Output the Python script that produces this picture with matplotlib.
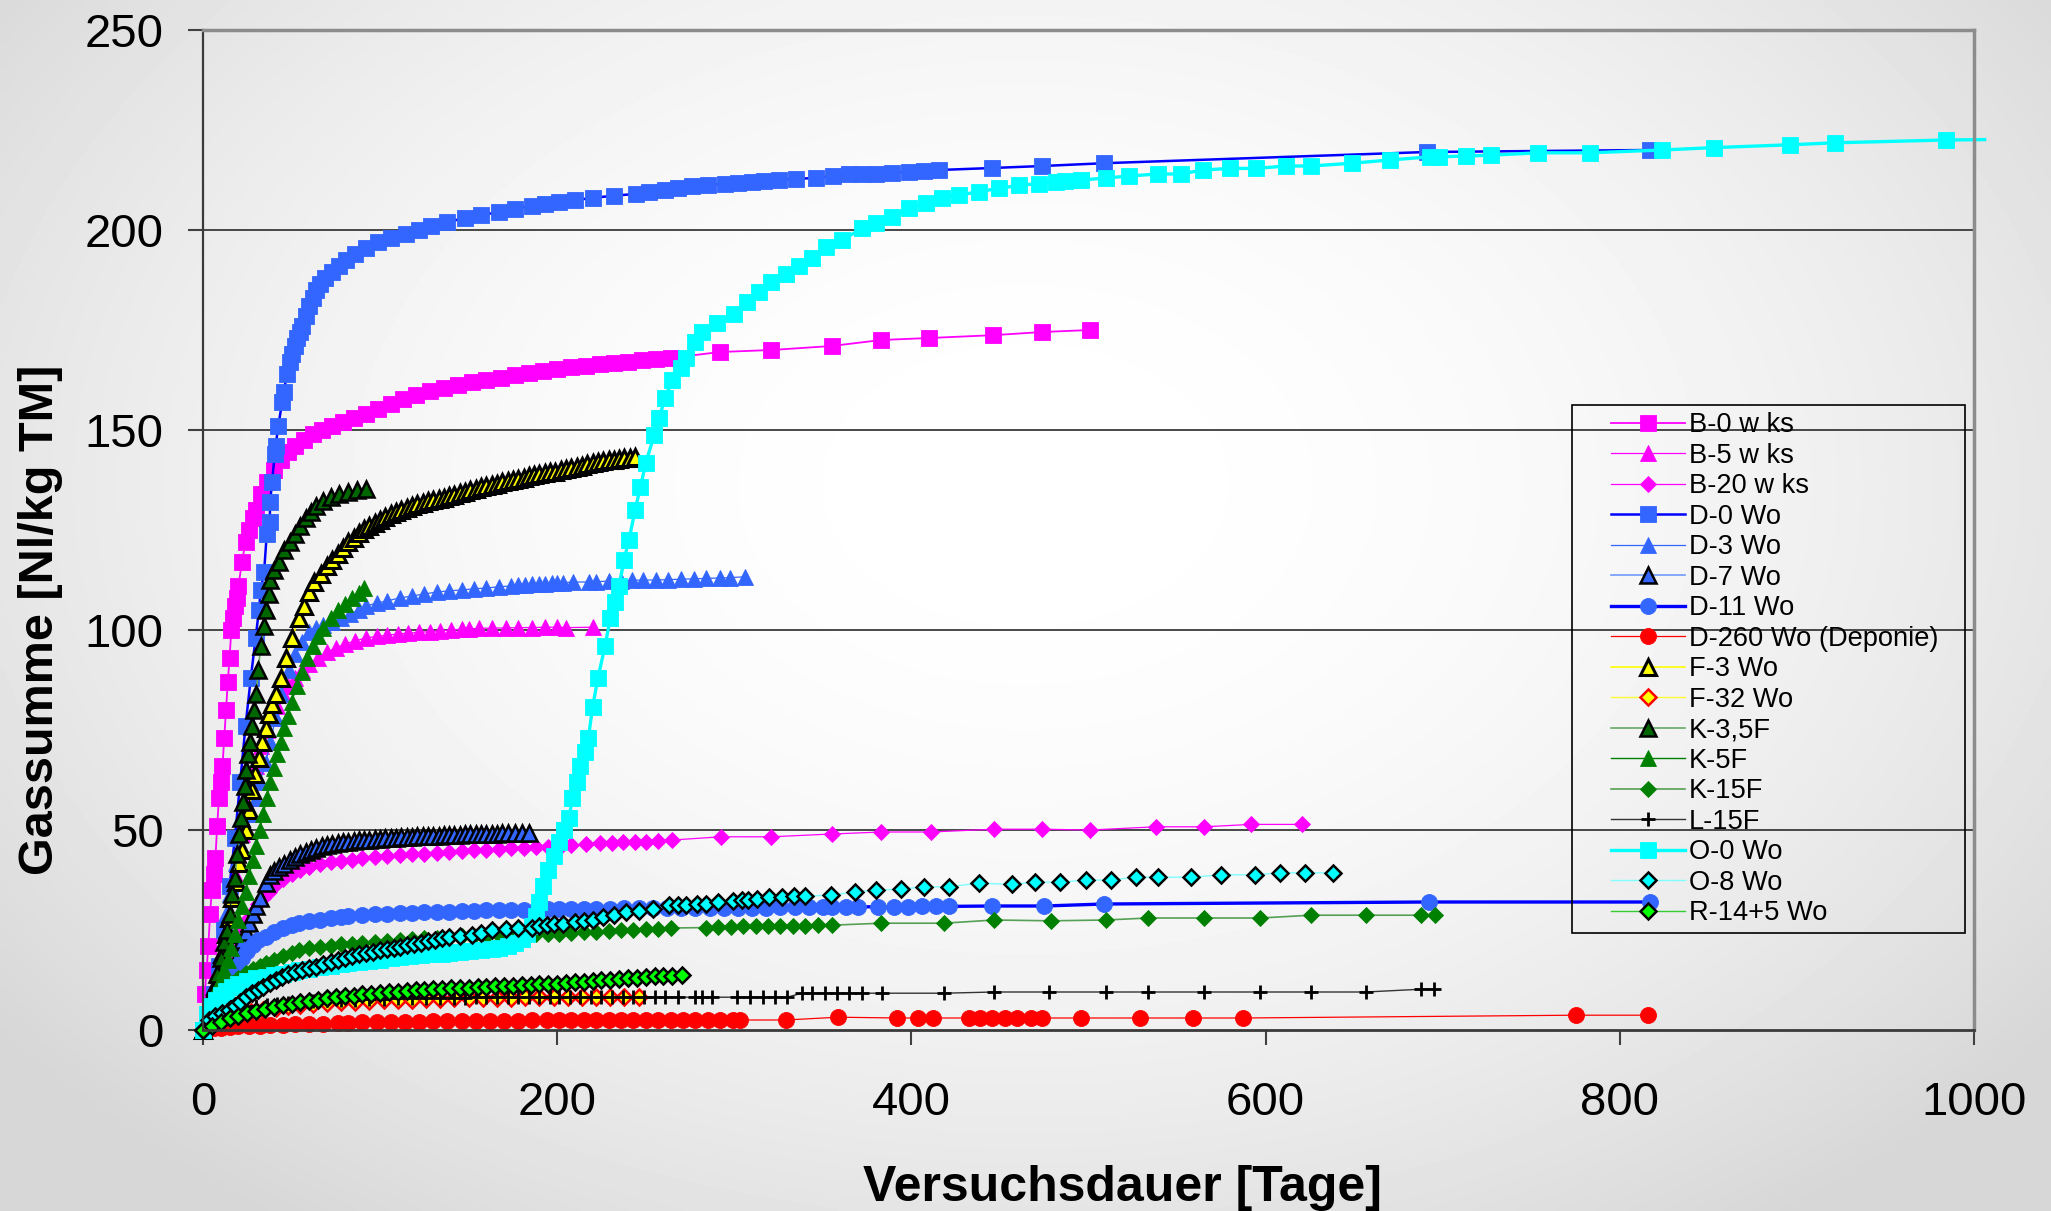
"""Gassumme over Versuchsdauer for several waste samples (Excel-style chart)."""

import matplotlib

matplotlib.use("Agg")
import matplotlib.pyplot as plt
import numpy as np
from matplotlib.patches import Rectangle

plt.rcParams["font.family"] = ["Liberation Sans", "DejaVu Sans"]

# (day, Nl/kg TM) pairs
B0_WKS = [(0, 0), (1, 9), (2, 15), (3, 21), (4, 29), (5, 35), (6, 39), (7, 43), (8, 51), (9, 58),
          (10, 62), (11, 66), (12, 73), (13, 80), (14, 87), (15, 93), (16, 100), (17, 103), (18, 106),
          (19, 108), (20, 111), (22, 117), (24, 122), (26, 125), (28, 128), (30, 130), (33, 134),
          (36, 137), (40, 140), (44, 142.5), (48, 144.5), (52, 146), (57, 147.5), (62, 149), (67, 150),
          (73, 151), (79, 152), (85, 153), (92, 154), (99, 155.2), (106, 156.5), (113, 157.8),
          (120, 158.8), (128, 159.8), (136, 160.5), (144, 161.3), (152, 162), (160, 162.6), (168, 163.1),
          (176, 163.7), (184, 164.3), (192, 164.8), (200, 165.3), (208, 165.7), (216, 166), (224, 166.4),
          (232, 166.7), (240, 167), (248, 167.4), (256, 167.7), (264, 168), (292, 169.5), (321, 170),
          (355, 171), (383, 172.5), (410, 173), (446, 173.7), (474, 174.5), (501, 175)]
B5_WKS = [(0, 0), (2, 3), (4, 6), (6, 10), (8, 14), (10, 19), (12, 24), (14, 29), (16, 34), (18, 39),
          (20, 44), (22, 49), (24, 54), (26, 58), (28, 62), (30, 66), (33, 71), (36, 75), (39, 78),
          (42, 81), (45, 84), (48, 86), (52, 88), (56, 90), (60, 91.5), (65, 93), (70, 94.5), (75, 95.5),
          (80, 96.5), (86, 97.3), (92, 98), (98, 98.4), (104, 98.7), (110, 99), (116, 99.2), (122, 99.4),
          (128, 99.6), (134, 99.8), (140, 100), (146, 100.2), (150, 100.3), (156, 100.4), (163, 100.5),
          (171, 100.5), (178, 100.6), (186, 100.6), (193, 100.7), (200, 100.7), (205, 100.6), (220, 100.7)]
B20_WKS = [(0, 0), (2, 2), (4, 4), (6, 6), (8, 9), (10, 12), (13, 15), (16, 18.5), (19, 22), (22, 25),
           (25, 27.5), (28, 29.5), (31, 31.5), (34, 33), (37, 34.5), (40, 36), (45, 37.7), (50, 39),
           (55, 40), (60, 40.8), (66, 41.4), (72, 41.9), (78, 42.3), (84, 42.6), (90, 42.9), (97, 43.2),
           (104, 43.5), (111, 43.7), (118, 43.9), (125, 44.1), (132, 44.3), (139, 44.5), (146, 44.7),
           (153, 44.9), (160, 45.1), (167, 45.3), (174, 45.4), (181, 45.5), (188, 45.7), (195, 45.8),
           (202, 46), (208, 46.2), (216, 46.4), (224, 46.7), (231, 46.8), (237, 46.9), (244, 47),
           (250, 47.1), (257, 47.3), (265, 47.5), (292.5, 48.3), (320.7, 48.3), (355, 49), (383, 49.5),
           (411, 49.5), (446.6, 50.2), (474, 50.2), (501, 50), (538, 50.8), (565, 50.8), (592, 51.4),
           (620.6, 51.4)]
D0_WO = [(0, 0), (3, 4), (6, 9), (9, 16), (12, 25), (15, 36), (18, 48), (21, 62), (24, 76), (27, 88),
         (29.7, 98), (31.6, 105), (32.6, 110), (34.5, 114.5), (36, 124), (37.7, 127), (37.9, 132),
         (39, 137), (40.5, 144), (41, 146), (42.5, 151), (44.7, 157), (45.5, 159.5), (47.5, 164),
         (49, 167), (50.4, 169), (52, 171), (53, 173), (54.5, 174.5), (56, 176), (58, 178.5), (60, 181),
         (62, 183), (63.6, 185), (66, 186.5), (69, 188), (73, 189.5), (77, 191), (81, 192.5), (86, 194),
         (92, 195.5), (99, 197), (106, 198), (114.5, 199), (122, 200), (129, 201), (138, 202), (148, 203),
         (157, 203.7), (167, 204.5), (176, 205.3), (186, 206), (193, 206.5), (201, 207), (210, 207.5),
         (220, 208), (232, 208.6), (244.5, 209), (252, 209.5), (261, 210), (268, 210.5), (276, 211),
         (285, 211.3), (295, 211.5), (302, 211.8), (310, 212), (317, 212.3), (325, 212.5), (335, 212.8),
         (346, 213), (356, 213.5), (365, 214), (372, 214), (380, 214), (389, 214.3), (398.6, 214.5),
         (407, 214.8), (415.6, 215), (445.5, 215.5), (474, 216), (509, 216.7), (691, 219.5), (817, 220)]
D3_WO = [(0, 0), (3, 5), (6, 11), (9, 17), (12.8, 29), (15, 34), (18.5, 41.7), (21, 46), (24, 50),
         (27, 54), (29.7, 58), (32, 62), (35.4, 66.7), (38, 72), (41, 78), (44, 84), (48.6, 90), (52, 94),
         (56, 97), (60, 99.5), (64, 100.5), (68, 101.2), (73, 102), (78, 103), (83, 104), (88, 105),
         (92, 106), (98, 106.7), (104, 107.3), (111, 108), (118, 108.5), (125, 109), (132, 109.5),
         (139, 109.8), (146, 110), (153, 110.3), (160, 110.5), (167, 110.8), (174, 111), (178, 111.2),
         (182, 111.3), (186, 111.4), (190, 111.5), (193, 111.6), (197, 111.7), (200, 111.8), (203, 111.8),
         (209, 112), (218, 112), (222, 112.1), (229, 112.2), (236, 112.3), (242, 112.4), (248.5, 112.5),
         (256, 112.5), (262.6, 112.6), (270, 112.7), (277.5, 112.8), (284, 112.9), (291.7, 113),
         (297.4, 113.1), (306, 113.3)]
D7_WO = [(0, 0), (2, 1.5), (4, 3), (6, 4.5), (9, 6), (12, 9), (14, 11), (16.5, 14), (19, 18), (22, 22.5),
         (24, 24.5), (26, 26.7), (28, 29), (30, 31), (32, 33), (35.4, 36.7), (38, 38.7), (40, 39.7),
         (43, 40.8), (46, 41.6), (49, 42.5), (52, 43.3), (55, 44), (58, 44.6), (61, 45.1), (64, 45.5),
         (67, 45.9), (70, 46.2), (73, 46.5), (76, 46.7), (79, 46.9), (82, 47.1), (85, 47.3), (88, 47.4),
         (91, 47.5), (94, 47.6), (97, 47.7), (100, 47.8), (103, 47.9), (106, 48), (109, 48.1),
         (112, 48.2), (115, 48.3), (118, 48.3), (121, 48.4), (124, 48.5), (127, 48.5), (130, 48.6),
         (133, 48.6), (136, 48.7), (139, 48.7), (142, 48.8), (145, 48.8), (148, 48.9), (151, 48.9),
         (154, 49), (157, 49), (160, 49), (163, 49.1), (166, 49.1), (169, 49.2), (172, 49.2),
         (176, 49.2), (180, 49.3), (184, 49.3)]
D11_WO = [(0, 0), (3, 3), (6, 6), (9, 9), (12, 11.5), (14, 13), (16.5, 14.5), (19, 16), (22, 18),
          (25, 19.8), (28, 21.3), (31, 22.5), (35.4, 23.3), (40, 24.5), (45, 25.5), (50, 26.2), (54, 26.7),
          (60, 27.2), (66, 27.6), (72, 28), (78, 28.3), (82, 28.5), (90, 28.7), (97, 28.9), (104, 29),
          (111, 29.2), (118, 29.3), (125, 29.4), (132, 29.5), (139, 29.6), (146, 29.7), (153, 29.8),
          (160, 29.9), (167, 30), (174, 30), (181, 30.1), (188, 30.1), (195, 30.2), (201, 30.2),
          (208, 30.2), (215, 30.3), (222, 30.3), (230, 30.3), (238, 30.4), (246, 30.4), (254, 30.4),
          (262, 30.5), (270, 30.5), (278, 30.5), (286, 30.5), (294, 30.6), (302, 30.6), (310, 30.6),
          (318, 30.6), (326, 30.7), (334, 30.7), (342, 30.7), (350, 30.8), (355, 30.8), (363, 30.8),
          (370, 30.8), (381, 30.8), (390, 30.8), (398, 30.8), (406, 30.9), (414, 30.9), (421, 30.9),
          (445.6, 31), (475, 31), (509, 31.5), (692, 32), (817, 32)]
D260_WO = [(0, 0), (3, 0.2), (6, 0.4), (10, 0.6), (15, 0.8), (20, 0.9), (26, 1), (32, 1.1), (38, 1.2),
           (45, 1.3), (52, 1.4), (60, 1.5), (68, 1.6), (76, 1.7), (82, 1.8), (90, 1.9), (98, 2), (106, 2),
           (114, 2.1), (122, 2.1), (130, 2.2), (138, 2.2), (146, 2.2), (154, 2.3), (162, 2.3), (170, 2.3),
           (178, 2.3), (186, 2.4), (194, 2.4), (201, 2.4), (208, 2.4), (215, 2.4), (222, 2.5), (229, 2.5),
           (236, 2.5), (243, 2.5), (250, 2.5), (257, 2.5), (264, 2.5), (271, 2.5), (278, 2.5), (285, 2.5),
           (292, 2.5), (299, 2.5), (303, 2.5), (329, 2.5), (358.6, 3.2), (392, 3), (404, 3), (412, 3),
           (432.5, 3), (439, 3), (445.6, 3), (453, 3), (459.8, 3), (467.3, 3), (474, 3), (496, 3),
           (529, 3), (559, 3), (587, 3), (775, 3.7), (816, 3.7)]
F3_WO = [(0, 0), (3, 4), (5, 8), (7, 11), (9, 14), (11, 19), (12.8, 24), (14.5, 28), (16.5, 33),
         (18.5, 37), (20.3, 41.7), (22, 45), (24, 50), (26, 55), (27.7, 60), (29.5, 64), (31.6, 68),
         (33.5, 72), (35.4, 75.5), (37, 79), (39, 81.5), (41, 84), (43.9, 88), (46.7, 93), (50.4, 98),
         (54, 103), (57, 106), (60, 109.5), (62.6, 112), (66.4, 114), (70, 116), (73, 117.5), (76, 119),
         (79, 120.5), (82, 122), (85, 123), (88, 124.2), (91, 125.2), (94, 126), (97, 126.8),
         (100, 127.6), (103, 128.3), (106, 129), (109, 129.6), (112, 130.1), (115, 130.6), (118, 131),
         (121, 131.4), (124, 131.8), (127, 132.2), (130, 132.5), (133, 132.8), (136, 133.1),
         (139, 133.4), (142, 133.8), (145, 134.2), (148, 134.6), (151, 135), (154, 135.3), (157, 135.7),
         (160, 136), (163, 136.3), (166, 136.6), (169, 136.9), (172, 137.2), (175, 137.5), (178, 137.8),
         (181, 138.1), (184, 138.4), (187, 138.7), (190, 139), (193, 139.2), (196, 139.4), (199, 139.6),
         (202, 139.9), (205, 140.2), (208, 140.5), (211, 140.8), (214, 141.1), (217, 141.4),
         (220, 141.7), (223, 142), (226, 142.2), (229, 142.4), (232, 142.6), (235, 142.8), (238, 143),
         (241, 143.1), (244, 143.2)]
F32_WO = [(0, 0), (4, 1.5), (8, 2.5), (14, 3.3), (20, 4), (27, 4.6), (34, 5.1), (41, 5.5), (48, 5.9),
          (55, 6.2), (62, 6.5), (70, 6.7), (78, 6.9), (86, 7.1), (94, 7.3), (102, 7.4), (110, 7.5),
          (118, 7.6), (126, 7.7), (134, 7.8), (142, 7.9), (150, 8), (158, 8), (166, 8.1), (174, 8.1),
          (182, 8.2), (190, 8.2), (198, 8.2), (206, 8.3), (214, 8.3), (222, 8.3), (230, 8.3), (238, 8.3),
          (246, 8.3)]
K35F = [(0, 0), (2, 3), (4, 6), (6, 10), (8, 14), (10, 18), (12, 22), (13.5, 25), (15, 29), (16.5, 34),
        (18, 38), (19.3, 44), (20.5, 49), (21.5, 53), (22.5, 57), (23.5, 61), (24.5, 65), (25.5, 69),
        (26.5, 72), (27.7, 76), (28.8, 80), (30, 84), (31.2, 90), (32.6, 96), (34.5, 101), (35.5, 105),
        (37, 109), (38, 112.5), (40, 115), (43, 117), (46, 120), (49, 122), (52, 124), (55, 126),
        (58, 128), (61, 129.5), (64, 131), (68, 132.3), (72, 133.2), (77, 134), (82, 134.5), (87, 135),
        (92, 135.3)]
K5F = [(0, 0), (2, 3.5), (4, 6), (6, 8.5), (8, 10.5), (10, 12.5), (12, 15), (14, 17.5), (16, 20.5),
       (18, 24), (20, 27.5), (22, 31), (24, 34.5), (26, 38.5), (28, 42.5), (30, 46), (32, 50), (34, 54),
       (36, 58), (38, 62), (40, 65.5), (42, 69), (44, 72), (46, 75.5), (48, 78.5), (50, 82), (53, 86),
       (56, 89.5), (59, 93), (62, 96), (65, 98.5), (68, 100.5), (72, 103), (76, 105), (80, 106.5),
       (84, 108), (88, 109.3), (91, 110.5)]
K15F = [(0, 0), (2, 2), (4, 4), (7.2, 6.7), (10, 8.5), (13, 10.2), (16.5, 11.7), (20, 13), (24, 14.3),
        (28, 15.3), (32, 16.1), (35.4, 16.7), (40, 17.6), (45, 18.4), (50, 19.3), (54, 20), (60, 20.4),
        (66, 20.8), (72, 21.1), (78, 21.4), (84, 21.6), (90, 21.8), (97, 22.1), (104, 22.3), (111, 22.5),
        (118, 22.7), (125, 22.9), (132, 23.1), (139, 23.3), (146, 23.4), (153, 23.5), (160, 23.6),
        (167, 23.7), (174, 23.8), (181, 23.8), (188, 23.9), (195, 24), (201, 24), (208, 24.2),
        (215, 24.4), (222, 24.6), (229, 24.8), (236, 25), (243, 25.1), (250, 25.2), (257, 25.3),
        (264, 25.5), (284, 25.6), (291, 25.7), (298, 25.8), (305, 25.9), (312, 25.9), (319, 26),
        (326, 26), (333, 26.1), (340, 26.1), (347, 26.2), (355, 26.2), (383, 26.7), (418.5, 26.7),
        (446.6, 27.5), (479, 27.3), (510, 27.5), (533.6, 28), (565, 28), (597, 28), (625.6, 28.7),
        (656.6, 28.7), (688, 28.7), (695.6, 28.7)]
L15F = [(0, 0), (3, 1.5), (6, 2.5), (10, 3.5), (15, 4.4), (20, 5), (25, 5.5), (30, 5.9), (36, 6.2),
        (42, 6.5), (48, 6.8), (55, 7), (62, 7.2), (70, 7.4), (78, 7.5), (86, 7.6), (94, 7.7), (102, 7.8),
        (110, 7.9), (118, 8), (126, 8), (134, 8.1), (142, 8.1), (148, 8.1), (154, 8.2), (160, 8.2),
        (166, 8.2), (172, 8.2), (178, 8.2), (184, 8.2), (190, 8.2), (196, 8.2), (201, 8.2), (207, 8.2),
        (213, 8.2), (219, 8.2), (225, 8.2), (231, 8.2), (237, 8.2), (243, 8.2), (249, 8.2), (255, 8.2),
        (261, 8.2), (268, 8.2), (277.6, 8.2), (282, 8.2), (287.5, 8.2), (301.8, 8.2), (309, 8.2),
        (316, 8.2), (322.7, 8.2), (330, 8.2), (338, 9.2), (344, 9.2), (351, 9.2), (358, 9.2),
        (364.6, 9.2), (372, 9.2), (383.6, 9.2), (418.5, 9.2), (446.6, 9.5), (477.6, 9.5), (510, 9.5),
        (533.6, 9.5), (565, 9.5), (597, 9.5), (625.6, 9.5), (656.6, 9.5), (688, 10.2), (695, 10.2)]
O0_WO = [(0, 0), (2, 4), (4, 6), (7.2, 7.5), (10, 8.8), (13, 9.8), (16.5, 10.8), (20, 11.5), (25, 12.3),
         (30, 12.9), (35.4, 13.3), (40, 13.7), (45, 14.1), (50, 14.5), (54, 15), (60, 15.3), (66, 15.7),
         (72, 16.1), (78, 16.4), (82, 16.7), (88, 17), (94, 17.3), (100, 17.6), (106, 18), (111, 18.3),
         (117, 18.6), (123, 18.8), (129, 19), (135, 19.1), (139, 19.2), (145, 19.5), (151, 19.8),
         (157, 20.1), (163, 20.3), (167, 20.5), (172, 21), (176, 21.8), (180, 22.8), (183, 24),
         (186, 26), (188, 28.5), (190, 32), (192, 36), (195, 40), (198, 43.5), (201, 47), (204, 50),
         (206.7, 53), (208.6, 58), (211, 62), (213, 66), (215.5, 69.5), (217.6, 73), (220, 80.8),
         (223, 88), (227, 96), (230, 103), (232.5, 107), (235, 111), (237.7, 117.5), (240.5, 122.5),
         (244, 130), (247, 135.8), (250, 141.7), (254.7, 148.7), (257.5, 153), (261, 158), (265, 162.5),
         (269.7, 165.5), (272.5, 168), (278, 172), (282, 174.6), (290, 176.7), (300, 179), (307, 182),
         (314, 184.6), (321, 187), (329, 189), (336.6, 191), (344, 193), (352, 195.8), (361, 197.5),
         (372, 200.4), (380, 201.7), (389, 203.3), (398.6, 205.4), (408, 206.7), (417, 208),
         (427, 208.7), (438, 209.6), (449.5, 210.4), (461, 211.2), (472, 211.6), (481.6, 212),
         (487, 212.2), (495.6, 212.5), (510, 213), (523, 213.5), (539, 214), (552, 214), (564.6, 215),
         (580, 215.4), (594.6, 215.4), (611.6, 216), (625.6, 216), (649, 216.7), (670, 217.5),
         (693, 218.3), (698, 218.3), (713, 218.5), (727, 218.7), (754, 219.3), (783, 219.3), (824, 220),
         (853, 220.6), (896, 221.3), (921.5, 221.8), (984, 222.5)]
O0_WO_TAIL = [(984, 222.5), (1006, 222.6)]
O8_WO = [(0, 0), (3.4, 2.5), (7, 3.5), (11, 4.3), (14.7, 5), (18, 6), (21, 7), (24.5, 8.2), (27.7, 9.2),
         (31, 10), (34, 10.8), (38, 11.8), (41, 12.5), (44.7, 13.3), (48, 13.9), (52, 14.4), (56, 14.9),
         (60, 15.4), (63.6, 15.8), (68, 16.4), (72, 17), (76, 17.5), (80, 18), (84, 18.5), (88, 18.9),
         (92, 19.3), (96, 19.6), (100, 20), (104, 20.3), (108, 20.6), (111, 20.8), (115, 21.2),
         (119, 21.5), (123, 21.8), (127, 22.2), (131, 22.5), (135, 22.9), (139, 23.3), (145, 23.6),
         (152, 23.8), (157, 24.3), (163, 25), (171, 25.3), (178, 25.5), (186, 25.6), (190, 26),
         (194, 26.2), (198, 26.4), (203, 26.5), (210, 26.9), (215, 27.2), (220, 27.5), (226, 28.2),
         (232, 28.8), (239, 29.5), (246, 29.8), (254, 30.2), (263, 31.2), (268, 31.2), (273, 31.3),
         (279, 31.4), (284, 31.5), (291, 32), (299, 32.2), (304.6, 32.4), (308, 32.6), (313, 32.8),
         (319.6, 33.2), (327, 33.3), (333.6, 33.4), (340, 33.5), (354.6, 33.7), (368, 34.5), (380, 35),
         (394, 35.2), (407, 35.8), (421, 35.8), (438, 36.7), (457, 36.4), (470, 37), (484, 36.9),
         (498.6, 37.5), (512.6, 37.5), (527, 38.2), (539, 38.2), (558, 38.2), (575, 38.8), (594, 38.8),
         (608, 39.3), (622, 39.3), (638, 39.3)]
R14_5_WO = [(0, 0), (5, 1.1), (10, 2), (15, 2.9), (20, 3.6), (25, 4.2), (30, 4.8), (35, 5.3), (40, 5.8),
            (45, 6.2), (50, 6.6), (55, 7), (60, 7.3), (65, 7.6), (70, 7.9), (75, 8.2), (80, 8.4),
            (85, 8.6), (90, 8.9), (95, 9.1), (100, 9.2), (105, 9.4), (110, 9.6), (115, 9.7), (120, 9.9),
            (125, 10), (130, 10.2), (135, 10.3), (140, 10.4), (145, 10.5), (150, 10.6), (155, 10.7),
            (160, 10.8), (165, 10.9), (170, 11), (175, 11.1), (180, 11.2), (185, 11.3), (190, 11.4),
            (195, 11.5), (200, 11.6), (205, 11.7), (210, 11.9), (215, 12.1), (220, 12.3), (225, 12.5),
            (230, 12.6), (235, 12.8), (240, 12.9), (245, 13.1), (250, 13.2), (255, 13.4), (260, 13.5),
            (265, 13.6), (270.5, 13.7)]

X_TICKS = [0, 200, 400, 600, 800, 1000]
Y_TICKS = [0, 50, 100, 150, 200, 250]

MAGENTA = "#FF00FF"
ROYAL = "#3366FF"
BLUE = "#0000FF"
CYAN = "#00FFFF"
GREEN = "#008000"

MS = 11.5   # squares, triangles, circles
MS_D = 8.6  # diamonds (drawn sqrt(2) wider)


def xy(points):
    arr = np.asarray(points, dtype=float)
    return arr[:, 0], arr[:, 1]


def series_styles():
    solid = dict(mew=0.6)
    edged = dict(mew=1.8)
    return [
        ("B-0 w ks", B0_WKS, dict(marker="s", ms=MS, color=MAGENTA, mfc=MAGENTA, mec=MAGENTA, lw=1.3, **solid)),
        ("B-5 w ks", B5_WKS, dict(marker="^", ms=MS, color=MAGENTA, mfc=MAGENTA, mec=MAGENTA, lw=0.9, **solid)),
        ("B-20 w ks", B20_WKS, dict(marker="D", ms=MS_D, color=MAGENTA, mfc=MAGENTA, mec=MAGENTA, lw=0.9, **solid)),
        ("D-0 Wo", D0_WO, dict(marker="s", ms=MS, color=BLUE, mfc=ROYAL, mec=ROYAL, lw=1.8, **solid)),
        ("D-3 Wo", D3_WO, dict(marker="^", ms=MS, color=ROYAL, mfc=ROYAL, mec=ROYAL, lw=0.9, **solid)),
        ("D-7 Wo", D7_WO, dict(marker="^", ms=MS - 0.5, color="#6F9BFF", mfc=ROYAL, mec="black", lw=1.2, **edged)),
        ("D-11 Wo", D11_WO, dict(marker="o", ms=MS, color=BLUE, mfc=ROYAL, mec=ROYAL, lw=2.4, **solid)),
        ("D-260 Wo (Deponie)", D260_WO, dict(marker="o", ms=MS, color="red", mfc="red", mec="red", lw=0.9, **solid)),
        ("F-3 Wo", F3_WO, dict(marker="^", ms=MS - 0.5, color="#FFFF00", mfc="#FFFF00", mec="black", lw=1.2, mew=2.2)),
        ("F-32 Wo", F32_WO, dict(marker="D", ms=MS_D - 0.6, color="#FFFF33", mfc="#FFFF00", mec="red", lw=1.0, **edged)),
        ("K-3,5F", K35F, dict(marker="^", ms=MS - 0.5, color="#66AA66", mfc="#006600", mec="black", lw=1.2, **edged)),
        ("K-5F", K5F, dict(marker="^", ms=MS, color=GREEN, mfc=GREEN, mec=GREEN, lw=1.0, **solid)),
        ("K-15F", K15F, dict(marker="D", ms=MS_D, color="#55A055", mfc=GREEN, mec=GREEN, lw=1.2, **solid)),
        ("L-15F", L15F, dict(marker="+", ms=MS - 1, color="#333333", mfc="black", mec="black", lw=1.0, mew=2.0)),
        ("O-0 Wo", O0_WO, dict(marker="s", ms=MS, color=CYAN, mfc=CYAN, mec=CYAN, lw=2.4, **solid)),
        ("O-8 Wo", O8_WO, dict(marker="D", ms=MS_D - 0.6, color="#80FFFF", mfc=CYAN, mec="black", lw=1.0, **edged)),
        ("R-14+5 Wo", R14_5_WO, dict(marker="D", ms=MS_D - 0.6, color="#33CC33", mfc="#00FF00", mec="black", lw=1.0, **edged)),
    ]


def draw_background(fig):
    bg = fig.add_axes([0, 0, 1, 1], zorder=-10)
    gx, gy = np.meshgrid(np.linspace(0, 1, 400), np.linspace(0, 1, 240))
    r2 = ((gx - 0.5) / 0.55) ** 2 + ((gy - 0.4) / 0.65) ** 2
    shade = np.clip(1.0 - 0.12 * r2, 0.84, 1.0)
    bg.imshow(shade, cmap="gray", vmin=0, vmax=1, extent=(0, 1, 1, 0), aspect="auto",
              interpolation="bicubic")
    bg.set_xlim(0, 1)
    bg.set_ylim(1, 0)
    bg.axis("off")


def main():
    fig = plt.figure(figsize=(20.51, 12.11), dpi=100)
    draw_background(fig)

    ax = fig.add_axes([203 / 2051, 1 - 1030 / 1211, 1771 / 2051, 1000 / 1211])
    ax.set_facecolor("none")

    for label, points, style in series_styles():
        x, y = xy(points)
        ax.plot(x, y, label=label, clip_on=False, **style)
        if label == "O-0 Wo":
            tx, ty = xy(O0_WO_TAIL)
            ax.plot(tx, ty, color=CYAN, lw=2.4, clip_on=False)

    ax.set_xlim(0, 1000)
    ax.set_ylim(0, 250)
    ax.set_xticks(X_TICKS)
    ax.set_yticks(Y_TICKS)
    ax.tick_params(axis="both", direction="out", length=10.5, width=1.5, color="#404040",
                   labelsize=34)
    ax.tick_params(axis="x", pad=26)
    ax.tick_params(axis="y", pad=18)

    ax.set_axisbelow(True)
    ax.yaxis.grid(True, color="#3a3a3a", lw=1.3)
    for val, gl in zip(ax.get_yticks(), ax.get_ygridlines()):
        if val in (Y_TICKS[0], Y_TICKS[-1]):
            gl.set_visible(False)

    ax.spines["left"].set_color("#3a3a3a")
    ax.spines["left"].set_linewidth(1.6)
    ax.spines["bottom"].set_color("#3a3a3a")
    ax.spines["bottom"].set_linewidth(2.0)
    ax.spines["top"].set_color("#8c8c8c")
    ax.spines["top"].set_linewidth(2.5)
    ax.spines["right"].set_color("#8c8c8c")
    ax.spines["right"].set_linewidth(2.5)

    ax.text(0.519, -0.171, "Versuchsdauer [Tage]", transform=ax.transAxes, ha="center",
            va="baseline", fontsize=36, fontweight="bold")
    ax.text(-0.0916, 0.41, "Gassumme [Nl/kg TM]", transform=ax.transAxes, ha="center",
            va="center", rotation=90, fontsize=35, fontweight="bold")

    ax.legend(loc="upper left", bbox_to_anchor=(0.792, 0.6232), frameon=False, fontsize=19.6,
              handlelength=2.7, handletextpad=0.15, borderpad=0.2, labelspacing=0.165,
              borderaxespad=0, numpoints=1)
    ax.add_patch(Rectangle((0.773, 0.097), 0.222, 0.528, transform=ax.transAxes, fill=False,
                           ec="black", lw=1.2, clip_on=False, zorder=6))

    fig.savefig("out.png", dpi=100)
    plt.close(fig)


if __name__ == "__main__":
    main()
